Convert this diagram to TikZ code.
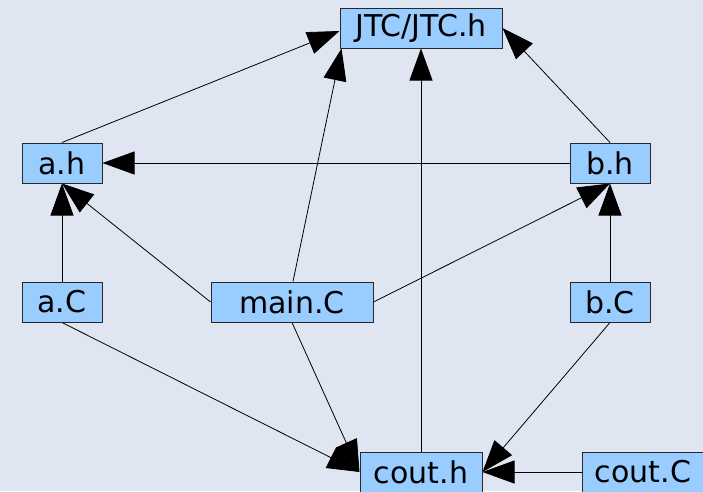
\documentclass[tikz,border=0pt]{standalone}
\usepackage{fontspec}
\setmainfont{DejaVu Sans}
\usetikzlibrary{arrows.meta,calc}
\definecolor{bgcol}{RGB}{223,230,241}
\definecolor{boxfill}{RGB}{153,204,255}
\definecolor{boxline}{RGB}{40,40,40}
\tikzset{
  file/.style={draw=boxline, line width=1pt, fill=boxfill, inner sep=0pt,
    minimum height=40pt, font=\fontsize{30}{30}\selectfont, text=black},
  narrow/.style={file, minimum width=80pt},
  mid/.style={file, minimum width=122pt},
  wide/.style={file, minimum width=162pt},
  dep/.style={draw=black, line width=0.8pt, -{Triangle[length=32pt,width=23pt]}}
}
\begin{document}
\begin{tikzpicture}[x=1pt,y=-1pt]
  \fill[bgcol] (0,0) rectangle (703,491);
  \useasboundingbox (0,0) rectangle (703,491);

  % headers and sources
  \node[wide]   (jtc)   at (421,28)  {JTC/JTC.h};
  \node[narrow] (ah)    at (62,163)  {a.h};
  \node[narrow] (bh)    at (610,163) {b.h};
  \node[narrow] (ac)    at (62,302)  {a.C};
  \node[wide]   (mainc) at (292,302) {main.C};
  \node[narrow] (bc)    at (610,302) {b.C};
  \node[mid]    (couth) at (421,472) {cout.h};
  \node[mid]    (coutc) at (643,472) {cout.C};

  % include dependencies
  \draw[dep] (ah.north) -- ($(jtc.west)+(0,3)$);
  \draw[dep] ($(mainc.north)+(1,0)$) -- ($(jtc.south west)+(2,0)$);
  \draw[dep] (couth.north) -- (jtc.south);
  \draw[dep] (bh.north) -- (jtc.east);
  \draw[dep] (bh.west) -- (ah.east);
  \draw[dep] (ac.north) -- (ah.south);
  \draw[dep] (mainc.west) -- (ah.south);
  \draw[dep] (mainc.east) -- (bh.south);
  \draw[dep] (bc.north) -- (bh.south);
  \draw[dep] (ac.south) -- (couth.west);
  \draw[dep] (mainc.south) -- (couth.west);
  \draw[dep] (bc.south) -- (couth.east);
  \draw[dep] (coutc.west) -- (couth.east);
\end{tikzpicture}
\end{document}
